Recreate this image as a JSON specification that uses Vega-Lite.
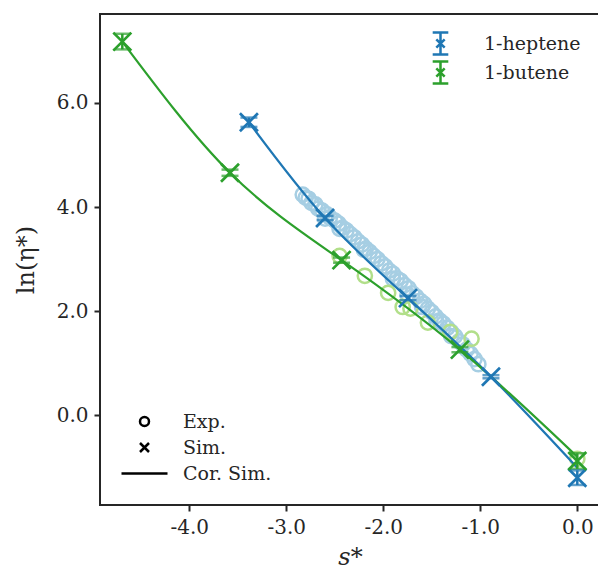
{
  "$schema": "https://vega.github.io/schema/vega-lite/v6.json",
  "width": 500,
  "height": 491,
  "autosize": "none",
  "padding": {"left": 100, "top": 14, "right": 0, "bottom": 69},
  "background": "white",
  "config": {
    "view": {"stroke": "#262626", "strokeWidth": 2},
    "font": "DejaVu Serif",
    "axis": {"grid": false, "domain": false, "tickColor": "#262626", "tickWidth": 2, "tickSize": 6, "labelFont": "DejaVu Serif", "labelFontSize": 20, "labelColor": "#262626", "titleFont": "DejaVu Serif", "titleFontWeight": "normal", "titleColor": "#262626", "titleFontSize": 24},
    "legend": {"labelFont": "DejaVu Serif", "labelFontSize": 19, "labelColor": "#262626", "padding": 0, "symbolOpacity": 1}
  },
  "data": {"values": [
    {"compound": "1-heptene", "kind": "Exp.", "s": -2.83, "ln": 4.24},
    {"compound": "1-heptene", "kind": "Exp.", "s": -2.80, "ln": 4.18},
    {"compound": "1-heptene", "kind": "Exp.", "s": -2.77, "ln": 4.16},
    {"compound": "1-heptene", "kind": "Exp.", "s": -2.74, "ln": 4.08},
    {"compound": "1-heptene", "kind": "Exp.", "s": -2.70, "ln": 4.05},
    {"compound": "1-heptene", "kind": "Exp.", "s": -2.67, "ln": 3.97},
    {"compound": "1-heptene", "kind": "Exp.", "s": -2.63, "ln": 3.93},
    {"compound": "1-heptene", "kind": "Exp.", "s": -2.60, "ln": 3.78},
    {"compound": "1-heptene", "kind": "Exp.", "s": -2.58, "ln": 3.86},
    {"compound": "1-heptene", "kind": "Exp.", "s": -2.55, "ln": 3.80},
    {"compound": "1-heptene", "kind": "Exp.", "s": -2.50, "ln": 3.74},
    {"compound": "1-heptene", "kind": "Exp.", "s": -2.46, "ln": 3.68},
    {"compound": "1-heptene", "kind": "Exp.", "s": -2.45, "ln": 3.58},
    {"compound": "1-heptene", "kind": "Exp.", "s": -2.42, "ln": 3.60},
    {"compound": "1-heptene", "kind": "Exp.", "s": -2.38, "ln": 3.55},
    {"compound": "1-heptene", "kind": "Exp.", "s": -2.34, "ln": 3.48},
    {"compound": "1-heptene", "kind": "Exp.", "s": -2.30, "ln": 3.42},
    {"compound": "1-heptene", "kind": "Exp.", "s": -2.26, "ln": 3.34},
    {"compound": "1-heptene", "kind": "Exp.", "s": -2.22, "ln": 3.28},
    {"compound": "1-heptene", "kind": "Exp.", "s": -2.20, "ln": 3.18},
    {"compound": "1-heptene", "kind": "Exp.", "s": -2.18, "ln": 3.20},
    {"compound": "1-heptene", "kind": "Exp.", "s": -2.14, "ln": 3.14},
    {"compound": "1-heptene", "kind": "Exp.", "s": -2.10, "ln": 3.06},
    {"compound": "1-heptene", "kind": "Exp.", "s": -2.06, "ln": 3.00},
    {"compound": "1-heptene", "kind": "Exp.", "s": -2.02, "ln": 2.92},
    {"compound": "1-heptene", "kind": "Exp.", "s": -1.98, "ln": 2.86},
    {"compound": "1-heptene", "kind": "Exp.", "s": -1.94, "ln": 2.78},
    {"compound": "1-heptene", "kind": "Exp.", "s": -1.90, "ln": 2.72},
    {"compound": "1-heptene", "kind": "Exp.", "s": -1.90, "ln": 2.62},
    {"compound": "1-heptene", "kind": "Exp.", "s": -1.86, "ln": 2.63},
    {"compound": "1-heptene", "kind": "Exp.", "s": -1.82, "ln": 2.58},
    {"compound": "1-heptene", "kind": "Exp.", "s": -1.78, "ln": 2.50},
    {"compound": "1-heptene", "kind": "Exp.", "s": -1.75, "ln": 2.32},
    {"compound": "1-heptene", "kind": "Exp.", "s": -1.74, "ln": 2.44},
    {"compound": "1-heptene", "kind": "Exp.", "s": -1.70, "ln": 2.34},
    {"compound": "1-heptene", "kind": "Exp.", "s": -1.66, "ln": 2.28},
    {"compound": "1-heptene", "kind": "Exp.", "s": -1.62, "ln": 2.20},
    {"compound": "1-heptene", "kind": "Exp.", "s": -1.60, "ln": 2.08},
    {"compound": "1-heptene", "kind": "Exp.", "s": -1.58, "ln": 2.14},
    {"compound": "1-heptene", "kind": "Exp.", "s": -1.54, "ln": 2.05},
    {"compound": "1-heptene", "kind": "Exp.", "s": -1.50, "ln": 1.98},
    {"compound": "1-heptene", "kind": "Exp.", "s": -1.46, "ln": 1.90},
    {"compound": "1-heptene", "kind": "Exp.", "s": -1.45, "ln": 1.80},
    {"compound": "1-heptene", "kind": "Exp.", "s": -1.42, "ln": 1.82},
    {"compound": "1-heptene", "kind": "Exp.", "s": -1.38, "ln": 1.76},
    {"compound": "1-heptene", "kind": "Exp.", "s": -1.34, "ln": 1.68},
    {"compound": "1-heptene", "kind": "Exp.", "s": -1.30, "ln": 1.60},
    {"compound": "1-heptene", "kind": "Exp.", "s": -1.30, "ln": 1.52},
    {"compound": "1-heptene", "kind": "Exp.", "s": -1.26, "ln": 1.52},
    {"compound": "1-heptene", "kind": "Exp.", "s": -1.22, "ln": 1.42},
    {"compound": "1-heptene", "kind": "Exp.", "s": -1.18, "ln": 1.36},
    {"compound": "1-heptene", "kind": "Exp.", "s": -1.14, "ln": 1.26},
    {"compound": "1-heptene", "kind": "Exp.", "s": -1.10, "ln": 1.18},
    {"compound": "1-heptene", "kind": "Exp.", "s": -1.06, "ln": 1.08},
    {"compound": "1-heptene", "kind": "Exp.", "s": -1.02, "ln": 0.98},
    {"compound": "1-butene", "kind": "Exp.", "s": -2.45, "ln": 3.06},
    {"compound": "1-butene", "kind": "Exp.", "s": -2.19, "ln": 2.68},
    {"compound": "1-butene", "kind": "Exp.", "s": -1.95, "ln": 2.35},
    {"compound": "1-butene", "kind": "Exp.", "s": -1.80, "ln": 2.08},
    {"compound": "1-butene", "kind": "Exp.", "s": -1.72, "ln": 2.05},
    {"compound": "1-butene", "kind": "Exp.", "s": -1.54, "ln": 1.78},
    {"compound": "1-butene", "kind": "Exp.", "s": -1.31, "ln": 1.60},
    {"compound": "1-butene", "kind": "Exp.", "s": -1.09, "ln": 1.47},
    {"compound": "1-butene", "kind": "Exp.", "s": 0.0, "ln": -0.84},
    {"compound": "1-heptene", "kind": "Cor. Sim.", "s": -3.385, "ln": 5.63},
    {"compound": "1-heptene", "kind": "Cor. Sim.", "s": -2.60, "ln": 3.79},
    {"compound": "1-heptene", "kind": "Cor. Sim.", "s": -1.745, "ln": 2.25},
    {"compound": "1-heptene", "kind": "Cor. Sim.", "s": -0.89, "ln": 0.74},
    {"compound": "1-heptene", "kind": "Cor. Sim.", "s": 0.0, "ln": -1.01},
    {"compound": "1-butene", "kind": "Cor. Sim.", "s": -4.69, "ln": 7.18},
    {"compound": "1-butene", "kind": "Cor. Sim.", "s": -3.58, "ln": 4.66},
    {"compound": "1-butene", "kind": "Cor. Sim.", "s": -2.43, "ln": 2.98},
    {"compound": "1-butene", "kind": "Cor. Sim.", "s": -1.21, "ln": 1.26},
    {"compound": "1-butene", "kind": "Cor. Sim.", "s": 0.0, "ln": -0.80},
    {"compound": "1-heptene", "kind": "Sim.", "s": -3.385, "ln": 5.63, "lo": 5.54, "hi": 5.72},
    {"compound": "1-heptene", "kind": "Sim.", "s": -2.60, "ln": 3.79, "lo": 3.75, "hi": 3.83},
    {"compound": "1-heptene", "kind": "Sim.", "s": -1.745, "ln": 2.25, "lo": 2.21, "hi": 2.29},
    {"compound": "1-heptene", "kind": "Sim.", "s": -0.89, "ln": 0.74, "lo": 0.71, "hi": 0.77},
    {"compound": "1-heptene", "kind": "Sim.", "s": 0.0, "ln": -1.20, "lo": -1.34, "hi": -1.06},
    {"compound": "1-butene", "kind": "Sim.", "s": -4.69, "ln": 7.18, "lo": 7.03, "hi": 7.33},
    {"compound": "1-butene", "kind": "Sim.", "s": -3.58, "ln": 4.66, "lo": 4.60, "hi": 4.72},
    {"compound": "1-butene", "kind": "Sim.", "s": -2.43, "ln": 2.98, "lo": 2.93, "hi": 3.03},
    {"compound": "1-butene", "kind": "Sim.", "s": -1.21, "ln": 1.26, "lo": 1.21, "hi": 1.31},
    {"compound": "1-butene", "kind": "Sim.", "s": 0.0, "ln": -0.88, "lo": -1.03, "hi": -0.73}
  ]},
  "encoding": {
    "x": {"field": "s", "type": "quantitative", "scale": {"domain": [-4.92, 0.234], "nice": false, "zero": false},
      "axis": {"values": [-4, -3, -2, -1, 0], "labelExpr": "replace(format(datum.value, '.1f'), '\u2212', '-')", "labelPadding": 6, "title": "s*", "titleFontStyle": "italic", "titlePadding": 8}},
    "y": {"field": "ln", "type": "quantitative", "scale": {"domain": [-1.725, 7.71], "nice": false, "zero": false},
      "axis": {"values": [0, 2, 4, 6], "labelExpr": "replace(format(datum.value, '.1f'), '\u2212', '-')", "labelPadding": 6, "title": "ln(η*)", "titlePadding": 18}}
  },
  "resolve": {"scale": {"color": "independent"}, "legend": {"color": "independent"}},
  "layer": [
    {
      "transform": [{"filter": "datum.kind === 'Exp.'"}],
      "mark": {"type": "point", "filled": false, "strokeWidth": 2.5, "size": 1000, "opacity": 1},
      "encoding": {
        "color": {"field": "compound", "type": "nominal", "scale": {"domain": ["1-heptene", "1-butene"], "range": ["#a6cee3", "#b2df8a"]}, "legend": null},
        "shape": {"field": "kind", "type": "nominal", "scale": {"domain": ["Exp.", "Sim.", "Cor. Sim."], "range": ["M0.45,0A0.45,0.45 0 1,1 -0.45,0A0.45,0.45 0 1,1 0.45,0Z", "M-0.45,-0.45L0.45,0.45M-0.45,0.45L0.45,-0.45", "M-2.3,0H2.3"]},
          "legend": {"orient": "none", "legendX": 33, "legendY": 396, "title": null, "symbolSize": 400, "symbolStrokeColor": "black", "symbolFillColor": "transparent", "symbolStrokeWidth": 2.5, "labelOffset": 27, "rowPadding": 4, "labelFontSize": 19}}
      }
    },
    {
      "encoding": {
        "color": {"field": "compound", "type": "nominal", "scale": {"domain": ["1-heptene", "1-butene"], "range": ["#1f77b4", "#2ca02c"]},
          "legend": {"orient": "none", "legendX": 328, "legendY": 17, "title": null, "symbolType": "M-0.71,-1H0.71M0,-1V1M-0.71,1H0.71M-0.38,-0.38L0.38,0.38M-0.38,0.38L0.38,-0.38", "symbolSize": 484, "symbolStrokeWidth": 2.5, "symbolOpacity": 1, "labelOffset": 31, "rowPadding": -8, "labelFontSize": 19}}
      },
      "layer": [
        {
          "transform": [{"filter": "datum.kind === 'Cor. Sim.'"}],
          "mark": {"type": "line", "strokeWidth": 2.2, "interpolate": "natural"}
        },
        {
          "transform": [{"filter": "datum.kind === 'Sim.'"}],
          "mark": {"type": "errorbar", "ticks": {"size": 17, "thickness": 2.5}, "thickness": 2.5},
          "encoding": {
            "y": {"field": "lo", "type": "quantitative"},
            "y2": {"field": "hi"}
          }
        },
        {
          "transform": [{"filter": "datum.kind === 'Sim.'"}],
          "mark": {"type": "point", "filled": false, "strokeWidth": 2.7, "size": 1600, "opacity": 1},
          "encoding": {
            "shape": {"field": "kind", "type": "nominal"}
          }
        }
      ]
    }
  ]
}
